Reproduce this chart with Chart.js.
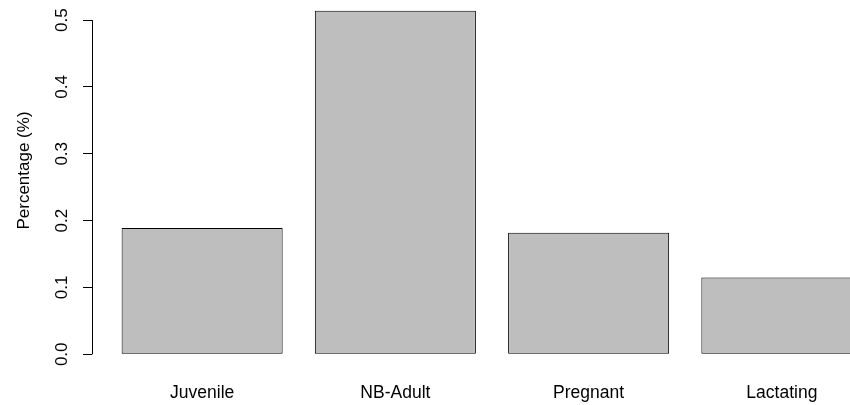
<!DOCTYPE html>
<html>
<head>
<meta charset="utf-8">
<script src="https://cdn.jsdelivr.net/npm/chart.js@4/dist/chart.umd.min.js"></script>
<style>
  html, body { margin: 0; padding: 0; width: 850px; height: 405px; overflow: hidden; background: #ffffff; }
  #plot { position: absolute; left: 0; top: -28px; }
</style>
</head>
<body>
<canvas id="plot" width="900" height="435"></canvas>
<script>
// Share of each reproductive class
const categories = ["Juvenile", "NB-Adult", "Pregnant", "Lactating"];
const shares = [0.189, 0.514, 0.182, 0.115];
const yTickValues = [0, 0.1, 0.2, 0.3, 0.4, 0.5];
const yTickLabels = ["0.0", "0.1", "0.2", "0.3", "0.4", "0.5"];

// barplot-style geometry: unit-wide bars separated by 0.2 of a unit
const barSpace = 0.2;
const barWidth = 1;
const slot = barSpace + barWidth;
const barCenters = categories.map((_, i) => barSpace + i * slot + barWidth / 2);

const fontFamily = "'Liberation Sans', Arial, Helvetica, sans-serif";

// y axis line spanning only the labelled tick range
const axisLine = {
  id: 'axisLine',
  afterDraw(chart) {
    const y = chart.scales.y;
    const ctx = chart.ctx;
    const x = Math.round(y.right) + 0.5;
    ctx.save();
    ctx.strokeStyle = '#000000';
    ctx.lineWidth = 1;
    ctx.beginPath();
    ctx.moveTo(x, y.getPixelForValue(yTickValues[0]));
    ctx.lineTo(x, y.getPixelForValue(yTickValues[yTickValues.length - 1]));
    ctx.stroke();
    ctx.restore();
  }
};

function noEdgePadding(scale) {
  scale.paddingTop = 0;
  scale.paddingBottom = 0;
  scale.paddingLeft = 0;
  scale.paddingRight = 0;
}

new Chart(document.getElementById('plot'), {
  type: 'bar',
  data: {
    datasets: [{
      data: categories.map((c, i) => ({ x: barCenters[i], y: shares[i] })),
      backgroundColor: '#bebebe',
      borderColor: '#000000',
      borderWidth: 1,
      borderSkipped: false,
      categoryPercentage: 1,
      barPercentage: barWidth / slot
    }]
  },
  options: {
    responsive: false,
    animation: false,
    layout: { padding: { left: 0, right: 8, top: 0, bottom: 0 } },
    plugins: { legend: { display: false }, tooltip: { enabled: false } },
    scales: {
      x: {
        type: 'linear',
        offset: false,
        min: 0.016,
        max: 4.984,
        grid: { display: false, drawTicks: false },
        border: { display: false },
        afterBuildTicks(scale) {
          scale.ticks = barCenters.map(v => ({ value: v }));
        },
        afterFit(scale) { scale.height = 38; noEdgePadding(scale); },
        ticks: {
          autoSkip: false,
          maxRotation: 0,
          padding: 14,
          color: '#000000',
          font: { family: fontFamily, size: 17.5 },
          callback(value) {
            const i = barCenters.findIndex(c => Math.abs(c - value) < 1e-6);
            return i >= 0 ? categories[i] : '';
          }
        }
      },
      y: {
        min: -0.022,
        max: 0.572,
        grid: {
          display: true,
          drawOnChartArea: false,
          drawTicks: true,
          tickLength: 9,
          color: '#000000',
          lineWidth: 1
        },
        border: { display: false },
        afterBuildTicks(scale) {
          scale.ticks = yTickValues.map(v => ({ value: v }));
        },
        afterFit(scale) { scale.width = 92; noEdgePadding(scale); },
        ticks: {
          minRotation: 90,
          maxRotation: 90,
          crossAlign: 'center',
          padding: 9,
          color: '#000000',
          font: { family: fontFamily, size: 17 },
          callback(value) {
            const i = yTickValues.findIndex(v => Math.abs(v - value) < 1e-9);
            return i >= 0 ? yTickLabels[i] : '';
          }
        },
        title: {
          display: true,
          text: 'Percentage (%)',
          color: '#000000',
          font: { family: fontFamily, size: 17 },
          padding: { top: 14, bottom: 0 }
        }
      }
    }
  },
  plugins: [axisLine]
});
</script>
</body>
</html>
